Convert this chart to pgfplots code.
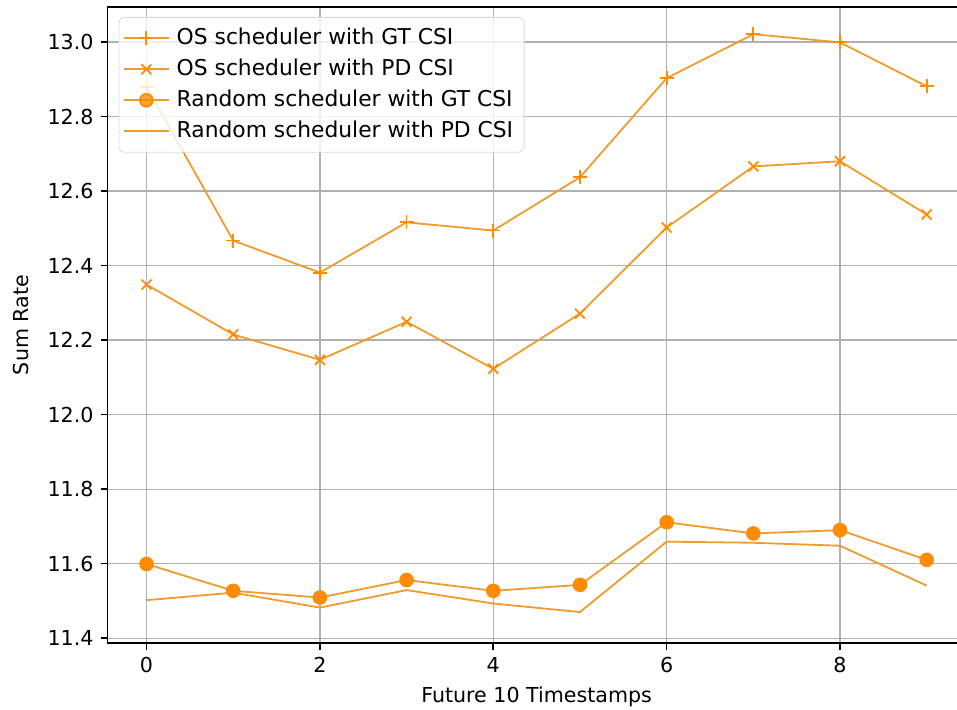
\documentclass[border=0pt]{standalone}
\usepackage{pgfplots}
\pgfplotsset{compat=1.18}
\usepackage{fontspec}
\setmainfont{DejaVu Sans}
\definecolor{dorange}{RGB}{255,140,0}
\definecolor{lorange}{RGB}{240,155,45}
\begin{document}
\begin{tikzpicture}
\begin{axis}[
  scale only axis,
  width=429pt, height=318pt,
  xmin=-0.45, xmax=9.45,
  ymin=11.3866, ymax=13.094,
  xtick={0,2,4,6,8},
  ytick={11.4,11.6,11.8,12.0,12.2,12.4,12.6,12.8,13.0},
  yticklabel style={/pgf/number format/.cd,fixed,fixed zerofill,precision=1},
  /pgf/number format/assume math mode=true,
  tick label style={font=\fontsize{10.3}{12}\selectfont},
  label style={font=\fontsize{10.3}{12}\selectfont},
  xlabel={Future 10 Timestamps},
  ylabel={Sum Rate},
  ylabel style={yshift=2.5pt},
  grid=major,
  grid style={color=black!31, line width=0.6pt},
  axis line style={line width=0.8pt},
  tick align=outside,
  tick pos=left,
  major tick length=3.5pt,
  tick style={black, line width=0.8pt},
  legend cell align=left,
  legend image code/.code={%
    \draw[mark repeat=2,mark phase=2,#1] plot coordinates {(0pt,0pt) (11.25pt,0pt) (22.5pt,0pt)};},
  legend style={font=\fontsize{10.9}{12}\selectfont, draw=black!15, rounded corners=2.5pt, fill=white, fill opacity=0.8, text opacity=1,
    at={(0.0128,0.9843)}, anchor=north west, inner xsep=2pt, inner ysep=4.5pt,
    nodes={inner xsep=3.5pt, inner ysep=1pt, text height=7.9pt, text depth=2pt},
    row sep=3.6pt},
  every axis plot/.append style={line width=0.9pt},
]
\addplot[color=lorange, mark=+, mark size=3.5pt, mark options={dorange}] coordinates {
(0,12.88)(1,12.467)(2,12.381)(3,12.516)(4,12.494)(5,12.637)(6,12.903)(7,13.021)(8,12.999)(9,12.881)};
\addlegendentry{OS scheduler with GT CSI}
\addplot[color=lorange, mark=x, mark size=3.5pt, mark options={dorange}] coordinates {
(0,12.349)(1,12.215)(2,12.147)(3,12.249)(4,12.123)(5,12.271)(6,12.502)(7,12.666)(8,12.680)(9,12.537)};
\addlegendentry{OS scheduler with PD CSI}
\addplot[color=lorange, mark=*, mark size=3.2pt, mark options={dorange, draw=dorange, fill=dorange}] coordinates {
(0,11.599)(1,11.527)(2,11.509)(3,11.556)(4,11.527)(5,11.543)(6,11.711)(7,11.681)(8,11.690)(9,11.610)};
\addlegendentry{Random scheduler with GT CSI}
\addplot[color=lorange, no markers] coordinates {
(0,11.502)(1,11.522)(2,11.482)(3,11.529)(4,11.493)(5,11.470)(6,11.659)(7,11.656)(8,11.648)(9,11.541)};
\addlegendentry{Random scheduler with PD CSI}
\end{axis}
\pgfresetboundingbox
\path ([xshift=-53.75pt,yshift=-33pt]current axis.south west) rectangle ([xshift=-4.35pt,yshift=3.5pt]current axis.north east);
\end{tikzpicture}
\end{document}
